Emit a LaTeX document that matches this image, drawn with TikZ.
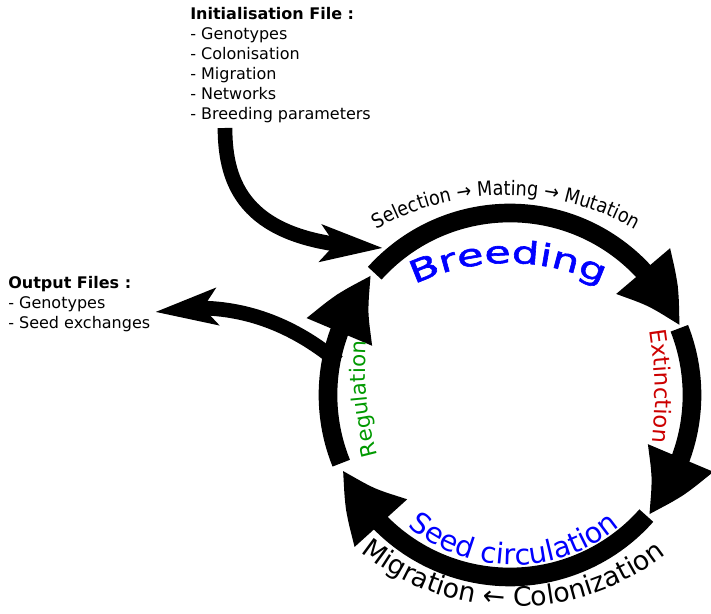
\documentclass[tikz,border=0pt]{standalone}
\usepackage{fontspec}
\setmainfont{DejaVu Sans}
\newfontfamily\widefont[FakeStretch=1.4,FakeBold=2]{DejaVu Sans}
\newfontfamily\narrowfont[FakeStretch=0.88]{DejaVu Sans}
\usetikzlibrary{arrows.meta,bending,decorations.text}

\definecolor{extred}{RGB}{204,0,0}
\definecolor{reggreen}{RGB}{0,153,0}

\tikzset{
  cycle arrow/.style={line width=14pt, -{Triangle[length=50pt,width=49pt,bend]}},
  file arrow/.style={line width=11pt, -{Stealth[length=46pt,width=27pt,inset=10pt]}},
  file list/.style={anchor=north west, inner sep=0pt, align=left, font=\fontsize{12}{15}\selectfont},
  arc text/.style={decorate, decoration={text along path, text align=center, text={#1}}},
}

\begin{document}
\begin{tikzpicture}[x=0.75pt,y=0.75pt]
\useasboundingbox (0,0) rectangle (711,614);

% centre of the cycle
\coordinate (hub) at (510,219);

% file contents
\node[file list] (init) at (190,607) {\textbf{Initialisation File :}\\- Genotypes\\- Colonisation\\- Migration\\- Networks\\- Breeding parameters};
\node[file list] (out) at (8,338) {\textbf{Output Files :}\\- Genotypes\\- Seed exchanges};

% reading and writing the files
\coordinate (in start) at (225,486);
\coordinate (in end) at (383,366);
\coordinate (out start) at (338,252);
\coordinate (out end) at (155,302);
\draw[file arrow] (in start) .. controls (225,419) and (255,369) .. (in end);
\draw[file arrow] (out start) .. controls (290,292) and (230,316) .. (out end);

% the four steps of one generation
\foreach \from/\to in {138/22, 21.5/-41, -41.5/-156, 202/139}
  \draw[cycle arrow] ([shift={(\from:182)}]hub) arc[start angle=\from, end angle=\to, radius=182];

% labels along the cycle
\path[arc text={|\narrowfont\fontsize{15}{18}\selectfont|Selection → Mating → Mutation}]
  (344,363) arc[start angle=128, end angle=52, radius=263];
\path[arc text={|\widefont\fontsize{23}{27}\selectfont|Breeding}, decoration={text color=blue}]
  (384.7,312.1) arc[start angle=125, end angle=55, radius=215];
\path[arc text={|\fontsize{17}{20}\selectfont|Extinction}, decoration={text color=extred}]
  (647,300) to[bend left=8] (651,155);
\path[arc text={|\fontsize{16}{19}\selectfont|Regulation}, decoration={text color=reggreen}]
  (380,150) to[bend left=10] (367,282);
\path[arc text={|\fontsize{21.5}{25}\selectfont|Seed circulation}, decoration={text color=blue}]
  (388.8,107.4) arc[start angle=220, end angle=320, radius=163.5];
\path[arc text={|\fontsize{20}{24}\selectfont|Migration ← Colonization}]
  (333.2,88.3) arc[start angle=222, end angle=317, radius=244.7];

\end{tikzpicture}
\end{document}
